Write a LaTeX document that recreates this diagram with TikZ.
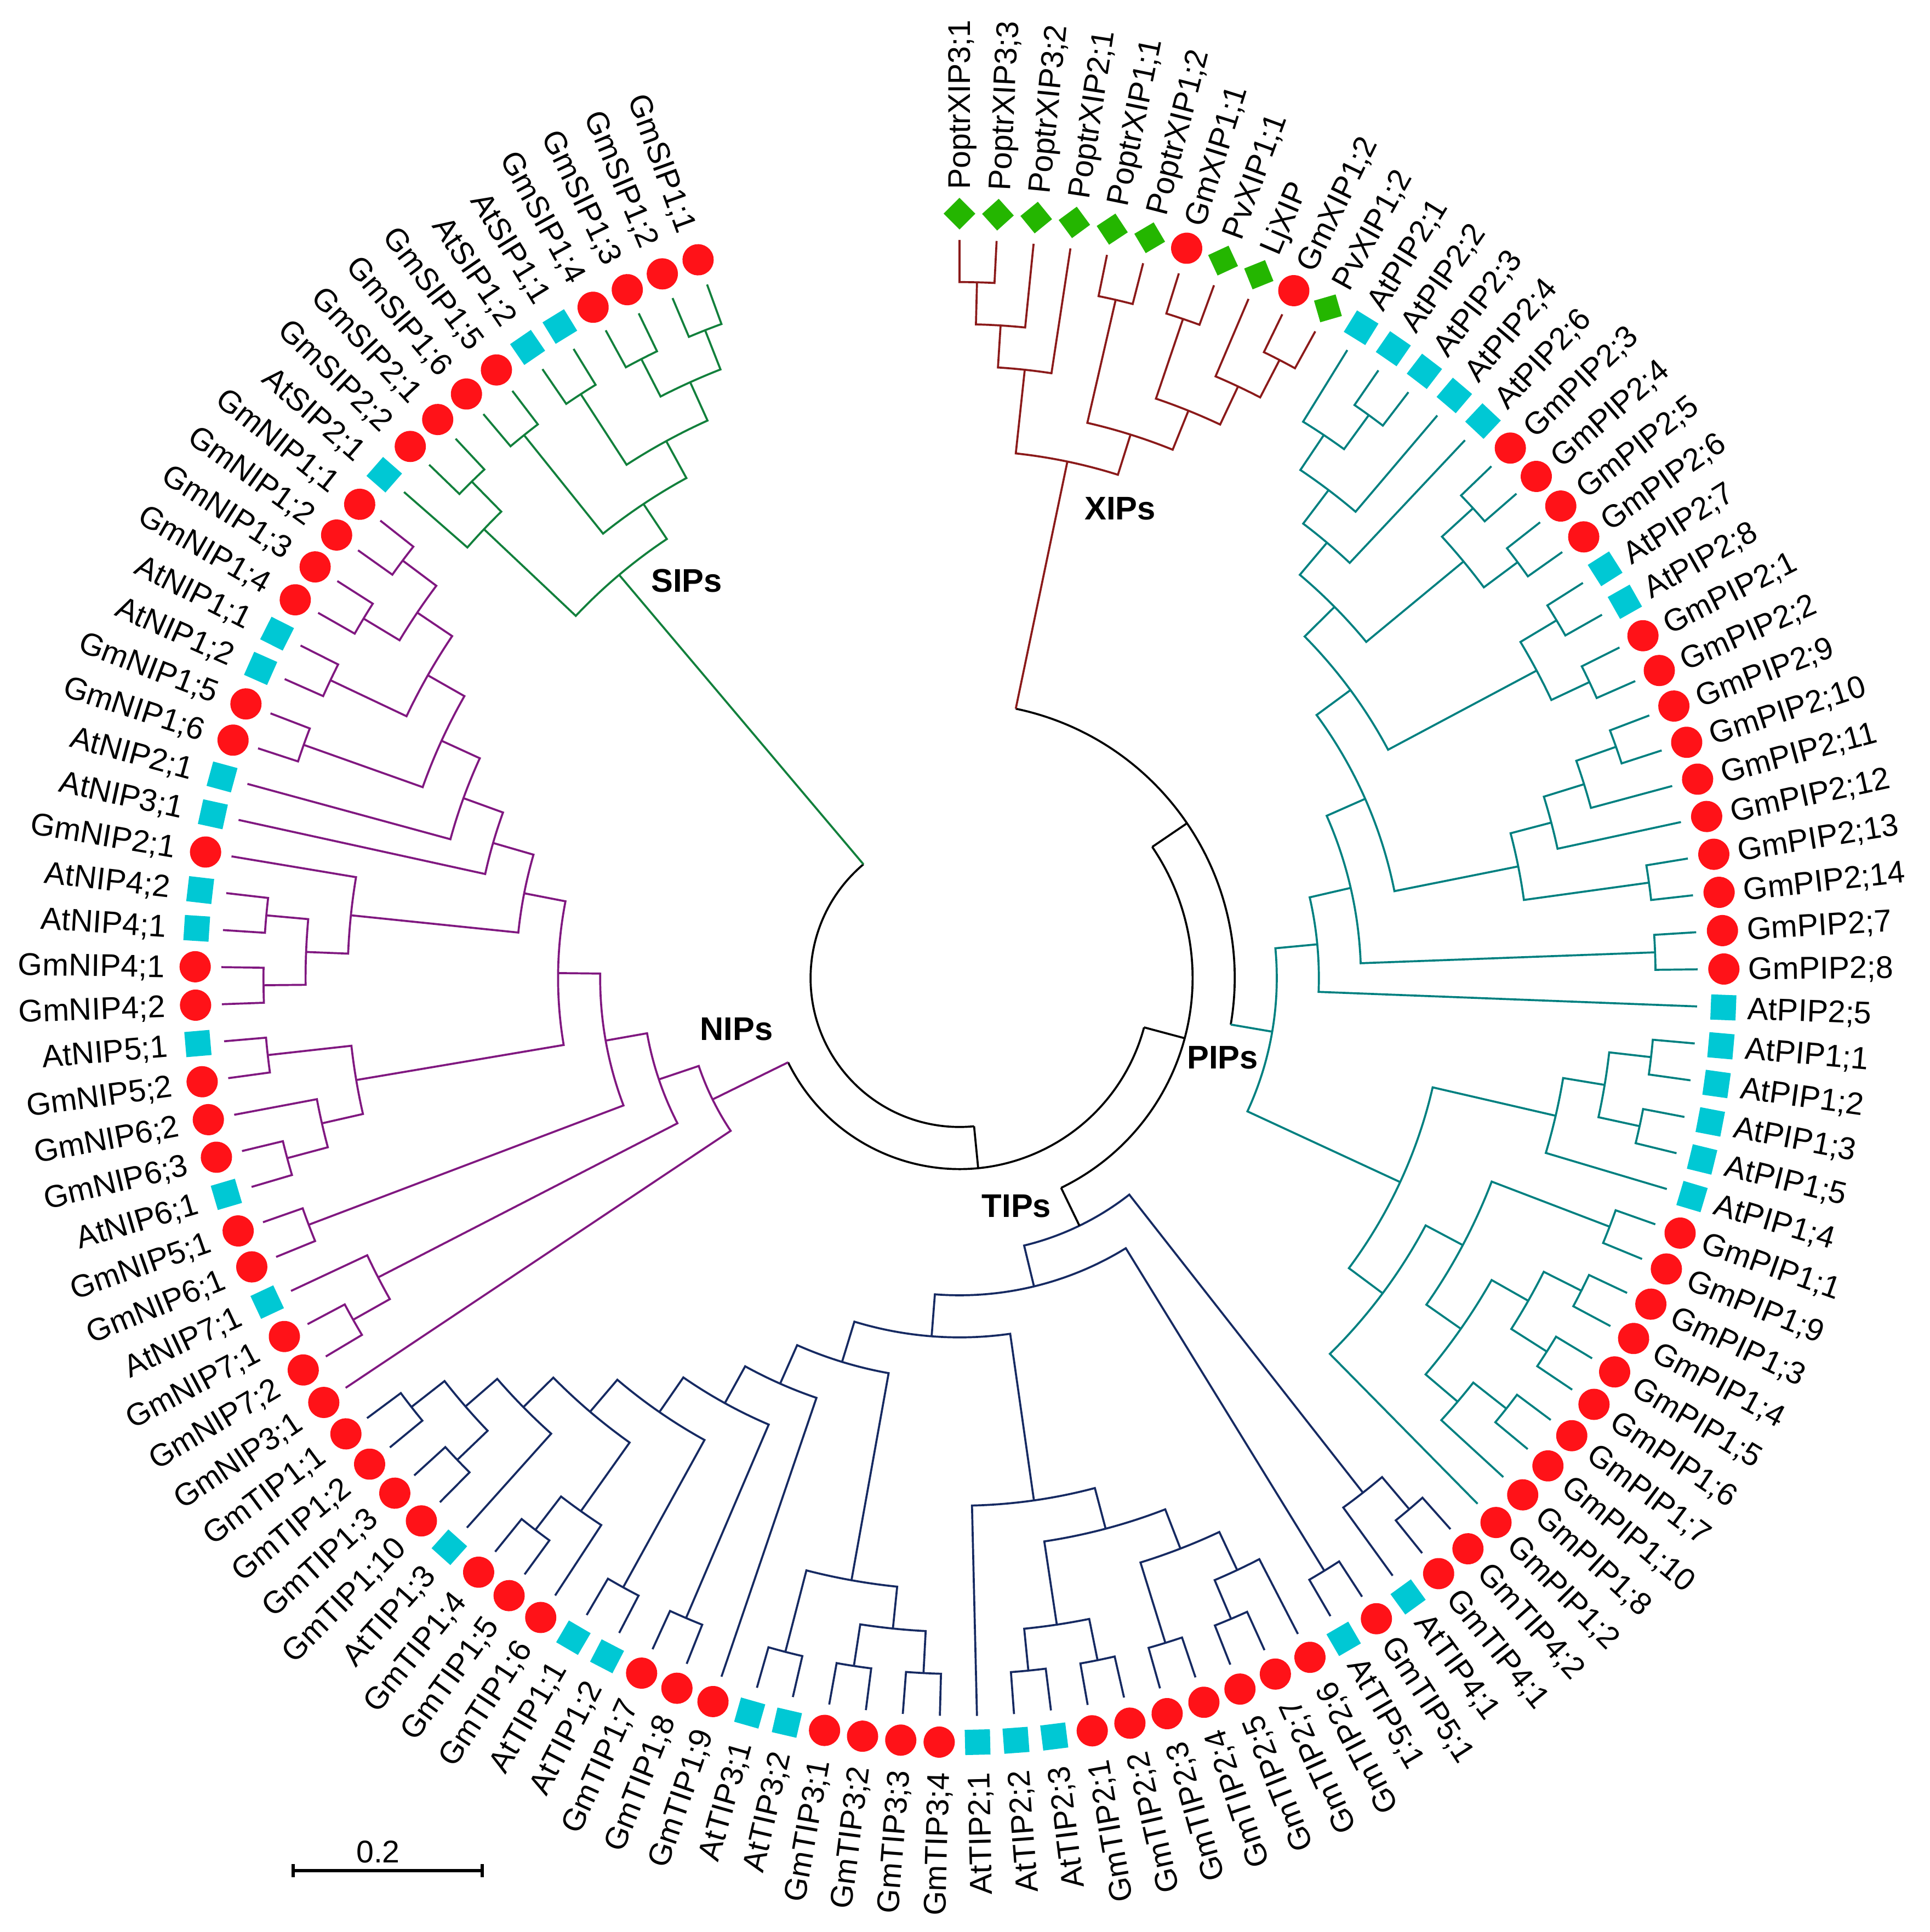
\documentclass[tikz,border=0pt]{standalone}
\usepackage{fontspec}
\setmainfont{Liberation Sans}
\definecolor{xipc}{RGB}{139,26,26}
\definecolor{pipc}{RGB}{0,128,128}
\definecolor{tipc}{RGB}{22,42,98}
\definecolor{nipc}{RGB}{128,24,128}
\definecolor{sipc}{RGB}{18,128,60}
\definecolor{redm}{RGB}{255,18,24}
\definecolor{cyanm}{RGB}{0,200,212}
\definecolor{greenm}{RGB}{36,182,0}
\tikzset{
  tree/.style={line width=1.05pt},
  mkr/.style={circle,fill=redm,minimum size=0.57cm,inner sep=0pt},
  mkc/.style={rectangle,fill=cyanm,minimum size=0.46cm,inner sep=0pt},
  mkg/.style={rectangle,fill=greenm,minimum size=0.41cm,inner sep=0pt,rotate=45},
  lab/.style={font=\fontsize{16.3}{18}\selectfont,inner sep=0pt,text depth=0pt},
  clab/.style={font=\fontsize{17}{20}\selectfont\bfseries,inner sep=0pt},
  sbar/.style={line width=1.7pt}
}
\newcommand\TLeaf[3]{%
  \pgfmathsetmacro\qtA{90-(#1)*2.881356}%
  \expandafter\xdef\csname TAl#1\endcsname{\qtA}%
  \expandafter\xdef\csname TLl#1\endcsname{0}%
  \node[mk#3,rotate=\qtA] (m#1) at (\qtA:13.95) {};%
  \ifnum#1>52\relax
    \node[lab,anchor=east,rotate=\qtA+180] (t#1) at (\qtA:14.50) {#2};%
  \else
    \node[lab,anchor=west,rotate=\qtA] (t#1) at (\qtA:14.39) {#2};%
  \fi
}
\newcommand\TCalc[3]{%
  \edef\qaA{\csname TA#2\endcsname}\edef\qaB{\csname TA#3\endcsname}%
  \edef\qlA{\csname TL#2\endcsname}\edef\qlB{\csname TL#3\endcsname}%
  \pgfmathsetmacro\qaM{(\qaA+\qaB)/2}%
  \pgfmathtruncatemacro\qlM{max(\qlA,\qlB)+1}%
  \expandafter\xdef\csname TA#1\endcsname{\qaM}%
  \expandafter\xdef\csname TL#1\endcsname{\qlM}%
  \pgfmathsetmacro\qrM{13.47-0.768*\qlM}%
  \pgfmathsetmacro\qrA{13.47-0.768*\qlA}%
  \pgfmathsetmacro\qrB{13.47-0.768*\qlB}%
}
\newcommand\TClade[3]{%
  \TCalc{#1}{#2}{#3}%
  \draw[tree,draw=\cc] (\qaA:\qrA) -- (\qaA:\qrM) arc[start angle=\qaA,end angle=\qaB,radius=\qrM] -- (\qaB:\qrB);%
  \coordinate (#1) at (\qaM:\qrM);%
}
\newcommand\TCladeX[6]{%
  \TCalc{#1}{#2}{#3}%
  \draw[tree,draw=#4] (\qaA:\qrM) arc[start angle=\qaA,end angle=\qaB,radius=\qrM];%
  \draw[tree,draw=#5] (\qaA:\qrM) -- (\qaA:\qrA);%
  \draw[tree,draw=#6] (\qaB:\qrM) -- (\qaB:\qrB);%
  \coordinate (#1) at (\qaM:\qrM);%
}
\begin{document}
\begin{tikzpicture}
\useasboundingbox (-17.51,-17.41) rectangle (17.71,17.85);
% leaves
\TLeaf{0}{PoptrXIP3;1}{g}
\TLeaf{1}{PoptrXIP3;3}{g}
\TLeaf{2}{PoptrXIP3;2}{g}
\TLeaf{3}{PoptrXIP2;1}{g}
\TLeaf{4}{PoptrXIP1;1}{g}
\TLeaf{5}{PoptrXIP1;2}{g}
\TLeaf{6}{GmXIP1;1}{r}
\TLeaf{7}{PvXIP1;1}{g}
\TLeaf{8}{LjXIP}{g}
\TLeaf{9}{GmXIP1;2}{r}
\TLeaf{10}{PvXIP1;2}{g}
\TLeaf{11}{AtPIP2;1}{c}
\TLeaf{12}{AtPIP2;2}{c}
\TLeaf{13}{AtPIP2;3}{c}
\TLeaf{14}{AtPIP2;4}{c}
\TLeaf{15}{AtPIP2;6}{c}
\TLeaf{16}{GmPIP2;3}{r}
\TLeaf{17}{GmPIP2;4}{r}
\TLeaf{18}{GmPIP2;5}{r}
\TLeaf{19}{GmPIP2;6}{r}
\TLeaf{20}{AtPIP2;7}{c}
\TLeaf{21}{AtPIP2;8}{c}
\TLeaf{22}{GmPIP2;1}{r}
\TLeaf{23}{GmPIP2;2}{r}
\TLeaf{24}{GmPIP2;9}{r}
\TLeaf{25}{GmPIP2;10}{r}
\TLeaf{26}{GmPIP2;11}{r}
\TLeaf{27}{GmPIP2;12}{r}
\TLeaf{28}{GmPIP2;13}{r}
\TLeaf{29}{GmPIP2;14}{r}
\TLeaf{30}{GmPIP2;7}{r}
\TLeaf{31}{GmPIP2;8}{r}
\TLeaf{32}{AtPIP2;5}{c}
\TLeaf{33}{AtPIP1;1}{c}
\TLeaf{34}{AtPIP1;2}{c}
\TLeaf{35}{AtPIP1;3}{c}
\TLeaf{36}{AtPIP1;5}{c}
\TLeaf{37}{AtPIP1;4}{c}
\TLeaf{38}{GmPIP1;1}{r}
\TLeaf{39}{GmPIP1;9}{r}
\TLeaf{40}{GmPIP1;3}{r}
\TLeaf{41}{GmPIP1;4}{r}
\TLeaf{42}{GmPIP1;5}{r}
\TLeaf{43}{GmPIP1;6}{r}
\TLeaf{44}{GmPIP1;7}{r}
\TLeaf{45}{GmPIP1;10}{r}
\TLeaf{46}{GmPIP1;8}{r}
\TLeaf{47}{GmPIP1;2}{r}
\TLeaf{48}{GmTIP4;2}{r}
\TLeaf{49}{GmTIP4;1}{r}
\TLeaf{50}{AtTIP4;1}{c}
\TLeaf{51}{GmTIP5;1}{r}
\TLeaf{52}{AtTIP5;1}{c}
\TLeaf{53}{GmTIP2;6}{r}
\TLeaf{54}{GmTIP2;7}{r}
\TLeaf{55}{GmTIP2;5}{r}
\TLeaf{56}{GmTIP2;4}{r}
\TLeaf{57}{GmTIP2;3}{r}
\TLeaf{58}{GmTIP2;2}{r}
\TLeaf{59}{GmTIP2;1}{r}
\TLeaf{60}{AtTIP2;3}{c}
\TLeaf{61}{AtTIP2;2}{c}
\TLeaf{62}{AtTIP2;1}{c}
\TLeaf{63}{GmTIP3;4}{r}
\TLeaf{64}{GmTIP3;3}{r}
\TLeaf{65}{GmTIP3;2}{r}
\TLeaf{66}{GmTIP3;1}{r}
\TLeaf{67}{AtTIP3;2}{c}
\TLeaf{68}{AtTIP3;1}{c}
\TLeaf{69}{GmTIP1;9}{r}
\TLeaf{70}{GmTIP1;8}{r}
\TLeaf{71}{GmTIP1;7}{r}
\TLeaf{72}{AtTIP1;2}{c}
\TLeaf{73}{AtTIP1;1}{c}
\TLeaf{74}{GmTIP1;6}{r}
\TLeaf{75}{GmTIP1;5}{r}
\TLeaf{76}{GmTIP1;4}{r}
\TLeaf{77}{AtTIP1;3}{c}
\TLeaf{78}{GmTIP1;10}{r}
\TLeaf{79}{GmTIP1;3}{r}
\TLeaf{80}{GmTIP1;2}{r}
\TLeaf{81}{GmTIP1;1}{r}
\TLeaf{82}{GmNIP3;1}{r}
\TLeaf{83}{GmNIP7;2}{r}
\TLeaf{84}{GmNIP7;1}{r}
\TLeaf{85}{AtNIP7;1}{c}
\TLeaf{86}{GmNIP6;1}{r}
\TLeaf{87}{GmNIP5;1}{r}
\TLeaf{88}{AtNIP6;1}{c}
\TLeaf{89}{GmNIP6;3}{r}
\TLeaf{90}{GmNIP6;2}{r}
\TLeaf{91}{GmNIP5;2}{r}
\TLeaf{92}{AtNIP5;1}{c}
\TLeaf{93}{GmNIP4;2}{r}
\TLeaf{94}{GmNIP4;1}{r}
\TLeaf{95}{AtNIP4;1}{c}
\TLeaf{96}{AtNIP4;2}{c}
\TLeaf{97}{GmNIP2;1}{r}
\TLeaf{98}{AtNIP3;1}{c}
\TLeaf{99}{AtNIP2;1}{c}
\TLeaf{100}{GmNIP1;6}{r}
\TLeaf{101}{GmNIP1;5}{r}
\TLeaf{102}{AtNIP1;2}{c}
\TLeaf{103}{AtNIP1;1}{c}
\TLeaf{104}{GmNIP1;4}{r}
\TLeaf{105}{GmNIP1;3}{r}
\TLeaf{106}{GmNIP1;2}{r}
\TLeaf{107}{GmNIP1;1}{r}
\TLeaf{108}{AtSIP2;1}{c}
\TLeaf{109}{GmSIP2;2}{r}
\TLeaf{110}{GmSIP2;1}{r}
\TLeaf{111}{GmSIP1;6}{r}
\TLeaf{112}{GmSIP1;5}{r}
\TLeaf{113}{AtSIP1;2}{c}
\TLeaf{114}{AtSIP1;1}{c}
\TLeaf{115}{GmSIP1;4}{r}
\TLeaf{116}{GmSIP1;3}{r}
\TLeaf{117}{GmSIP1;2}{r}
\TLeaf{118}{GmSIP1;1}{r}
% XIPs
\def\cc{xipc}
\TClade{x01}{l0}{l1}
\TClade{x012}{x01}{l2}
\TClade{xB1}{x012}{l3}
\TClade{x45}{l4}{l5}
\TClade{x67}{l6}{l7}
\TClade{x910}{l9}{l10}
\TClade{x8910}{l8}{x910}
\TClade{xC}{x67}{x8910}
\TClade{xB2}{x45}{xC}
\TClade{xR}{xB1}{xB2}
% PIPs
\def\cc{pipc}
\TClade{p1213}{l12}{l13}
\TClade{p11}{l11}{p1213}
\TClade{p14}{p11}{l14}
\TClade{pAt2}{p14}{l15}
\TClade{p1617}{l16}{l17}
\TClade{p1819}{l18}{l19}
\TClade{pGm2}{p1617}{p1819}
\TClade{pC}{pAt2}{pGm2}
\TClade{p2021}{l20}{l21}
\TClade{p2223}{l22}{l23}
\TClade{p2023}{p2021}{p2223}
\TClade{pE}{pC}{p2023}
\TClade{p2425}{l24}{l25}
\TClade{p26}{p2425}{l26}
\TClade{p27}{p26}{l27}
\TClade{p2829}{l28}{l29}
\TClade{pD}{p27}{p2829}
\TClade{pB}{pE}{pD}
\TClade{p3031}{l30}{l31}
\TClade{pA}{pB}{p3031}
\TClade{p2}{pA}{l32}
\TClade{p3334}{l33}{l34}
\TClade{p3536}{l35}{l36}
\TClade{p3336}{p3334}{p3536}
\TClade{pAt1}{p3336}{l37}
\TClade{p3839}{l38}{l39}
\TClade{p4041}{l40}{l41}
\TClade{p4243}{l42}{l43}
\TClade{pQ1}{p4041}{p4243}
\TClade{p4445}{l44}{l45}
\TClade{pQ2}{p4445}{l46}
\TClade{pH2}{pQ1}{pQ2}
\TClade{pGp}{p3839}{pH2}
\TClade{pG}{pGp}{l47}
\TClade{p1}{pAt1}{pG}
\TClade{pR}{p2}{p1}
% TIPs
\def\cc{tipc}
\TClade{t4849}{l48}{l49}
\TClade{tT2}{t4849}{l50}
\TClade{t5152}{l51}{l52}
\TClade{t5455}{l54}{l55}
\TClade{tT8b}{l53}{t5455}
\TClade{t5657}{l56}{l57}
\TClade{tT8}{tT8b}{t5657}
\TClade{t5859}{l58}{l59}
\TClade{t6061}{l60}{l61}
\TClade{tT7}{t5859}{t6061}
\TClade{tT6}{tT8}{tT7}
\TClade{tT4}{tT6}{l62}
\TClade{t6364}{l63}{l64}
\TClade{t6566}{l65}{l66}
\TClade{t6366}{t6364}{t6566}
\TClade{t6768}{l67}{l68}
\TClade{tT10}{t6366}{t6768}
\TClade{t7071}{l70}{l71}
\TClade{t7273}{l72}{l73}
\TClade{t7576}{l75}{l76}
\TClade{tU2}{l74}{t7576}
\TClade{t7879}{l78}{l79}
\TClade{t8081}{l80}{l81}
\TClade{t7881}{t7879}{t8081}
\TClade{tU1}{l77}{t7881}
\TClade{tV1}{tU2}{tU1}
\TClade{tV2}{t7273}{tV1}
\TClade{tV3}{t7071}{tV2}
\TClade{tT9}{l69}{tV3}
\TClade{tT5}{tT10}{tT9}
\TClade{tT3}{tT4}{tT5}
\TClade{tT1}{t5152}{tT3}
\TClade{tR}{tT2}{tT1}
% NIPs
\def\cc{nipc}
\TClade{n8384}{l83}{l84}
\TClade{nN4}{n8384}{l85}
\TClade{n8687}{l86}{l87}
\TClade{n8889}{l88}{l89}
\TClade{n90}{n8889}{l90}
\TClade{n9192}{l91}{l92}
\TClade{nN5}{n90}{n9192}
\TClade{n9394}{l93}{l94}
\TClade{n9596}{l95}{l96}
\TClade{n9396}{n9394}{n9596}
\TClade{nN10}{n9396}{l97}
\TClade{n100}{l100}{l101}
\TClade{n102}{l102}{l103}
\TClade{n104}{l104}{l105}
\TClade{n106}{l106}{l107}
\TClade{n104b}{n104}{n106}
\TClade{nN14}{n102}{n104b}
\TClade{nN13}{n100}{nN14}
\TClade{nN12}{l99}{nN13}
\TClade{nN11}{l98}{nN12}
\TClade{nN9}{nN10}{nN11}
\TClade{nN7}{nN5}{nN9}
\TClade{nN2}{n8687}{nN7}
\TClade{nN1}{nN4}{nN2}
\TClade{nR}{l82}{nN1}
% SIPs
\def\cc{sipc}
\TClade{s109}{l109}{l110}
\TClade{sA1}{l108}{s109}
\TClade{s111}{l111}{l112}
\TClade{s113}{l113}{l114}
\TClade{s115}{l115}{l116}
\TClade{s117}{l117}{l118}
\TClade{sX}{s115}{s117}
\TClade{sY}{s113}{sX}
\TClade{sA2}{s111}{sY}
\TClade{sR}{sA1}{sA2}
% backbone
\TCladeX{bS}{xR}{pR}{black}{xipc}{pipc}
\TCladeX{bR}{tR}{bS}{black}{black}{black}
\TCladeX{bQ}{nR}{bR}{black}{nipc}{black}
\TCladeX{bRoot}{sR}{bQ}{black}{sipc}{black}
% clade labels
\node[clab] (cX) at (2.93,8.57) {XIPs};
\node[clab] (cS) at (-4.98,7.25) {SIPs};
\node[clab] (cN) at (-4.07,-0.93) {NIPs};
\node[clab] (cP) at (4.80,-1.45) {PIPs};
\node[clab] (cT) at (1.04,-4.16) {TIPs};
% scale bar
\coordinate (sb1) at (-12.16,-16.29);
\coordinate (sb2) at (-8.71,-16.29);
\draw[sbar] (sb1) -- (sb2);
\draw[sbar] ([yshift=0.12cm]sb1) -- ([yshift=-0.12cm]sb1);
\draw[sbar] ([yshift=0.12cm]sb2) -- ([yshift=-0.12cm]sb2);
\node[lab] (sbt) at (-10.61,-15.94) {0.2};
\end{tikzpicture}
\end{document}
